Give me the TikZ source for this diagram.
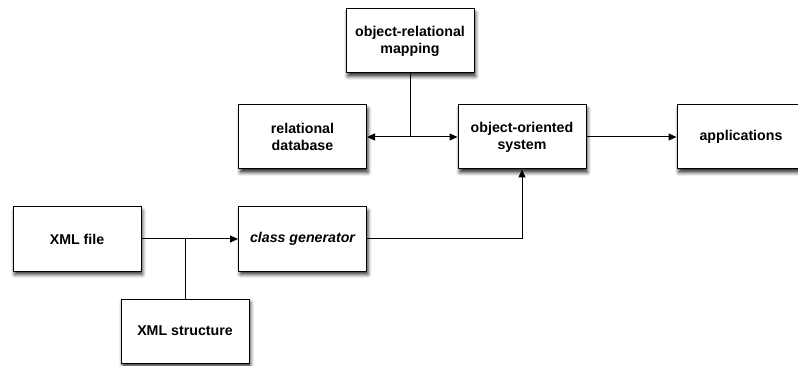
\documentclass[tikz,border=0pt]{standalone}
\usepackage{fontspec}
\setmainfont{Liberation Sans}
\usetikzlibrary{arrows.meta,shadows.blur}
\begin{document}
\begin{tikzpicture}[x=1pt,y=-1pt,
  box/.style={draw=black, line width=1pt, fill=white, minimum width=128pt, minimum height=64pt,
    align=center, inner sep=0pt, font=\fontsize{14.2}{17}\selectfont\bfseries,
    blur shadow={shadow xshift=1.5pt, shadow yshift=-3.5pt, shadow blur radius=3.5pt, shadow opacity=80}},
  conn/.style={line width=1pt},
  arr/.style={conn, -{Triangle[length=8pt,width=7pt]}}]
\useasboundingbox (0,0) rectangle (798,366);
\node[box] (orm) at (410,41) {object-relational\\mapping};
\node[box] (rdb) at (302.5,137) {relational\\database};
\node[box] (oo) at (522,137) {object-oriented\\system};
\node[box] (app) at (741,137) {applications};
\node[box] (xml) at (77,239) {XML file};
\node[box] (cg) at (302.5,239) {\itshape class generator};
\node[box] (xs) at (185,331) {XML structure};
\coordinate (j1) at (orm.south |- rdb.east);
\coordinate (j2) at (xs.north |- xml.east);
\coordinate (j3) at (oo.south |- cg.east);
\draw[conn] (orm.south) -- (j1);
\draw[arr] (j1) -- (rdb.east);
\draw[arr] (j1) -- (oo.west);
\draw[arr] (oo.east) -- (app.west);
\draw[arr] (xml.east) -- (cg.west);
\draw[conn] (xs.north) -- (j2);
\draw[arr] (cg.east) -- (j3) -- (oo.south);
\end{tikzpicture}
\end{document}
